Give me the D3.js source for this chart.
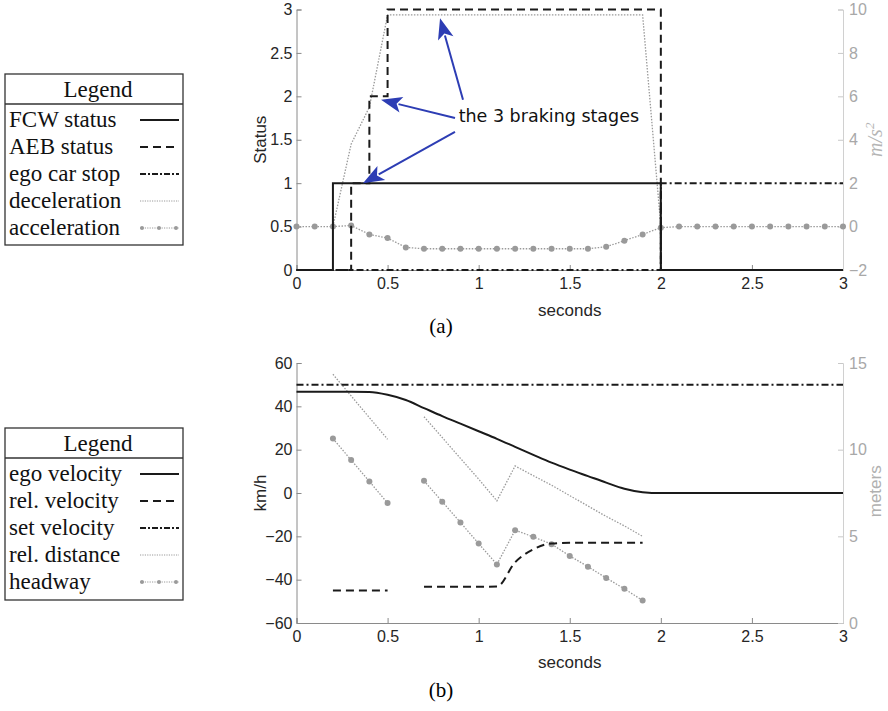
<!DOCTYPE html>
<html>
<head>
<meta charset="utf-8">
<script src="https://cdn.jsdelivr.net/npm/d3@7"></script>
<style>
  body { margin: 0; background: #fff; }
  .tick text { font-family: "Liberation Sans", Arial, sans-serif; font-size: 16px; }
  .lgd { font-family: "Liberation Serif", "Times New Roman", serif; font-size: 23px; fill: #111; }
</style>
</head>
<body>
<div id="chart"></div>
<script>
// ---- data (top plot, a) ----
var timeA = [0, 0.1, 0.2, 0.3, 0.4, 0.5, 0.6, 0.7, 0.8, 0.9, 1.0, 1.1, 1.2, 1.3, 1.4, 1.5,
             1.6, 1.7, 1.8, 1.9, 2.0, 2.1, 2.2, 2.3, 2.4, 2.5, 2.6, 2.7, 2.8, 2.9, 3.0];
var fcwT = [0, 0.2, 0.2, 2.0, 2.0, 3.0];
var fcwV = [0, 0, 1, 1, 0, 0];
var aebT = [0, 0.3, 0.3, 0.4, 0.4, 0.5, 0.5, 2.0, 2.0];
var aebV = [0, 0, 1, 1, 2, 2, 3, 3, 0];
var stopT = [0, 2.0, 2.0, 3.0];
var stopV = [0, 0, 1, 1];
var decelT = [0.2, 0.3, 0.4, 0.5, 1.9, 2.0];
var decelV = [0, 3.8, 5.5, 9.75, 9.75, 0];
var accelV = [0, 0, 0, 0.05, -0.36, -0.53, -0.96, -1.02, -1.02, -1.02, -1.02, -1.02, -1.02, -1.02, -1.02, -1.02,
              -1.02, -0.93, -0.65, -0.36, -0.05, 0, 0, 0, 0, 0, 0, 0, 0, 0, 0];

// ---- data (bottom plot, b) ----
var timeB = timeA;
var egoVel = [46.7, 46.7, 46.7, 46.7, 46.6, 45.3, 42.9, 39.2, 35.5, 32.0, 28.5, 25.0, 21.3, 17.6, 14.0, 10.8,
              7.8, 4.8, 2.0, 0.4, 0, 0, 0, 0, 0, 0, 0, 0, 0, 0, 0];
var setVel = [50, 50, 50, 50, 50, 50, 50, 50, 50, 50, 50, 50, 50, 50, 50, 50,
              50, 50, 50, 50, 50, 50, 50, 50, 50, 50, 50, 50, 50, 50, 50];
var relVelT = [0.2, 0.3, 0.4, 0.5, null, 0.7, 0.8, 0.9, 1.0, 1.1, 1.2, 1.3, 1.4, 1.5, 1.6, 1.7, 1.8, 1.9];
var relVel = [-45, -45, -45, -45, null, -43.3, -43.3, -43.3, -43.3, -43.2, -32, -26, -23.3, -23, -23, -23, -23, -23];
var relDistT = [0.2, 0.3, 0.4, 0.5, null, 0.7, 0.8, 0.9, 1.0, 1.1, 1.2, 1.3, 1.4, 1.5, 1.6, 1.7, 1.8, 1.9];
var relDist = [14.35, 13.1, 11.85, 10.6, null, 11.9, 10.7, 9.5, 8.3, 7.05, 9.06, 8.5, 7.95, 7.35, 6.75, 6.15, 5.6, 5.0];
var headT = relDistT;
var headway = [10.64, 9.4, 8.17, 6.92, null, 8.2, 7.0, 5.8, 4.58, 3.38, 5.35, 4.97, 4.55, 3.87, 3.25, 2.6, 1.97, 1.3];

var xTicks = [0, 0.5, 1, 1.5, 2, 2.5, 3];
var statusTicks = [0, 0.5, 1, 1.5, 2, 2.5, 3];
var accTicks = [-2, 0, 2, 4, 6, 8, 10];
var kmhTicks = [-60, -40, -20, 0, 20, 40, 60];
var meterTicks = [0, 5, 10, 15];

var legendA = ["FCW status", "AEB status", "ego car stop", "deceleration", "acceleration"];
var legendB = ["ego velocity", "rel. velocity", "set velocity", "rel. distance", "headway"];

// ---- styles ----
var styles = {
  solid:  { stroke: "#1a1a1a", width: 2, dash: null },
  dashed: { stroke: "#1a1a1a", width: 2, dash: "8,5" },
  dashdot:{ stroke: "#1a1a1a", width: 2, dash: "7,3,2,3" },
  dotted: { stroke: "#9a9a9a", width: 1.3, dash: "1.5,1.5" },
  marker: { stroke: "#9a9a9a", width: 1.3, dash: "1.5,1.5" }
};
var legendStyles = ["solid", "dashed", "dashdot", "dotted", "marker"];
var legendDash = [null, "8,5", "6,2,2,2", "1.2,1.2", "1.2,1.2"];

var svg = d3.select("#chart").append("svg")
  .attr("width", 888).attr("height", 711);

var left = 296.5, right = 843;
var x = d3.scaleLinear().domain([0, 3]).range([left, right]);
var sans = "Liberation Sans, Arial, sans-serif";

function drawAxes(yL, yR, ticksL, ticksR, bottomY) {
  var g = svg.append("g");
  // bottom
  var ax = g.append("g").attr("transform", "translate(0," + bottomY + ")")
    .call(d3.axisBottom(x).tickValues(xTicks).tickSize(-5).tickPadding(8).tickFormat(d3.format("")));
  ax.select(".domain").attr("stroke", "#8a8a8a");
  ax.selectAll(".tick line").attr("stroke", "#8a8a8a");
  ax.selectAll(".tick text").attr("fill", "#262626");
  // left
  var al = g.append("g").attr("transform", "translate(" + left + ",0)")
    .call(d3.axisLeft(yL).tickValues(ticksL).tickSize(-5).tickPadding(4).tickFormat(d3.format("")));
  al.select(".domain").attr("stroke", "#8a8a8a");
  al.selectAll(".tick line").attr("stroke", "#8a8a8a");
  al.selectAll(".tick text").attr("fill", "#262626");
  // right
  var ar = g.append("g").attr("transform", "translate(" + right + ",0)")
    .call(d3.axisRight(yR).tickValues(ticksR).tickSize(-5).tickPadding(6).tickFormat(d3.format("")));
  ar.select(".domain").attr("stroke", "#d0d0d0");
  ar.selectAll(".tick line").attr("stroke", "#c8c8c8");
  ar.selectAll(".tick text").attr("fill", "#a8a8a8").attr("font-size", "17px");
  return g;
}

function drawLine(xs, ys, y, style, curve) {
  var st = styles[style];
  var pts = xs.map(function (t, i) { return [t, ys[i]]; });
  var line = d3.line()
    .defined(function (d) { return d[0] !== null && d[1] !== null; })
    .x(function (d) { return x(d[0]); })
    .y(function (d) { return y(d[1]); })
    .curve(curve || d3.curveLinear);
  svg.append("path").datum(pts)
    .attr("d", line).attr("fill", "none")
    .attr("stroke", st.stroke).attr("stroke-width", st.width)
    .attr("stroke-dasharray", st.dash);
  if (style === "marker") {
    svg.append("g").selectAll("circle")
      .data(pts.filter(function (d) { return d[0] !== null && d[1] !== null; }))
      .enter().append("circle")
      .attr("cx", function (d) { return x(d[0]); })
      .attr("cy", function (d) { return y(d[1]); })
      .attr("r", 3).attr("fill", "#9a9a9a");
  }
}

function drawLegend(x0, y0, w, h, names) {
  var g = svg.append("g");
  g.append("rect").attr("x", x0).attr("y", y0).attr("width", w).attr("height", h)
    .attr("fill", "#fff").attr("stroke", "#333").attr("stroke-width", 1.3);
  g.append("line").attr("x1", x0).attr("x2", x0 + w).attr("y1", y0 + 30).attr("y2", y0 + 30)
    .attr("stroke", "#333").attr("stroke-width", 1.3);
  g.append("text").attr("class", "lgd").attr("x", x0 + w / 2 + 4).attr("y", y0 + 23)
    .attr("text-anchor", "middle").text("Legend");
  names.forEach(function (n, i) {
    var yy = y0 + 53 + i * 27;
    g.append("text").attr("class", "lgd").attr("x", x0 + 4).attr("y", yy).text(n);
    var st = styles[legendStyles[i]];
    var lw = i < 3 ? 2 : 1;
    g.append("line").attr("x1", x0 + 135).attr("x2", x0 + 174).attr("y1", yy - 7).attr("y2", yy - 7)
      .attr("stroke", st.stroke).attr("stroke-width", lw)
      .attr("stroke-dasharray", legendDash[i]);
    if (legendStyles[i] === "marker") {
      [x0 + 137, x0 + 154, x0 + 171].forEach(function (cx) {
        g.append("circle").attr("cx", cx).attr("cy", yy - 7).attr("r", 2).attr("fill", "#9a9a9a");
      });
    }
  });
}

// ================= top plot =================
var yA = d3.scaleLinear().domain([0, 3]).range([270, 9.5]);
var yA2 = d3.scaleLinear().domain([-2, 10]).range([270, 9.5]);
drawAxes(yA, yA2, statusTicks, accTicks, 270);

drawLine(decelT, decelV, yA2, "dotted");
drawLine(timeA, accelV, yA2, "marker");
drawLine(stopT, stopV, yA, "dashdot");
drawLine(fcwT, fcwV, yA, "solid");
drawLine(aebT, aebV, yA, "dashed");

svg.append("text").attr("transform", "translate(266," + yA(1.5) + ") rotate(-90)")
  .attr("text-anchor", "middle").attr("font-family", sans)
  .attr("font-size", "17px").attr("fill", "#262626").text("Status");
var msLabel = svg.append("text").attr("transform", "translate(882," + yA2(4) + ") rotate(-90)")
  .attr("text-anchor", "middle").attr("font-family", "Liberation Serif, serif")
  .attr("font-style", "italic").attr("font-size", "20px").attr("fill", "#b5b5b5");
msLabel.append("tspan").text("m/s");
msLabel.append("tspan").attr("dy", -8).attr("font-size", "13px").text("2");
svg.append("text").attr("x", x(1.5)).attr("y", 316).attr("text-anchor", "middle")
  .attr("font-family", sans).attr("font-size", "17px")
  .attr("fill", "#262626").text("seconds");
svg.append("text").attr("x", 441).attr("y", 333).attr("text-anchor", "middle")
  .attr("font-family", "Liberation Serif, serif").attr("font-size", "21px").text("(a)");

// annotation arrows (data coordinates: seconds, status)
var arrows = [
  { from: [0.914, 1.96], to: [0.788, 2.90] },
  { from: [0.87, 1.75], to: [0.464, 1.96] },
  { from: [0.87, 1.59], to: [0.365, 1.0] }
];
var blue = "#2d3db4";
arrows.forEach(function (a) {
  var x1 = x(a.from[0]), y1 = yA(a.from[1]), x2 = x(a.to[0]), y2 = yA(a.to[1]);
  var dx = x2 - x1, dy = y2 - y1, L = Math.sqrt(dx * dx + dy * dy);
  var ux = dx / L, uy = dy / L, hl = 21, hw = 8;
  var bx = x2 - ux * hl, by = y2 - uy * hl;
  svg.append("line").attr("x1", x1).attr("y1", y1).attr("x2", bx + ux * 3).attr("y2", by + uy * 3)
    .attr("stroke", blue).attr("stroke-width", 2);
  svg.append("path")
    .attr("d", "M" + x2 + "," + y2 + "L" + (bx - uy * hw) + "," + (by + ux * hw) +
      "L" + (bx + ux * 5) + "," + (by + uy * 5) + "L" + (bx + uy * hw) + "," + (by - ux * hw) + "Z")
    .attr("fill", blue);
});
svg.append("text").attr("x", x(0.89)).attr("y", yA(1.71))
  .attr("font-family", "DejaVu Sans, sans-serif").attr("font-size", "17.5px")
  .attr("fill", "#111").text("the 3 braking stages");

drawLegend(5, 74, 178, 171, legendA);

// ================= bottom plot =================
var yB = d3.scaleLinear().domain([-60, 60]).range([623, 363]);
var yB2 = d3.scaleLinear().domain([0, 15]).range([623, 363]);
drawAxes(yB, yB2, kmhTicks, meterTicks, 623);

drawLine(relDistT, relDist, yB2, "dotted");
drawLine(headT, headway, yB2, "marker");
drawLine(timeB, setVel, yB, "dashdot");
drawLine(timeB, egoVel, yB, "solid", d3.curveMonotoneX);
drawLine(relVelT, relVel, yB, "dashed", d3.curveMonotoneX);

svg.append("text").attr("transform", "translate(266," + yB(0) + ") rotate(-90)")
  .attr("text-anchor", "middle").attr("font-family", sans)
  .attr("font-size", "17px").attr("fill", "#262626").text("km/h");
svg.append("text").attr("transform", "translate(881," + yB2(7.6) + ") rotate(-90)")
  .attr("text-anchor", "middle").attr("font-family", sans)
  .attr("font-size", "17px").attr("fill", "#b0b0b0").text("meters");
svg.append("text").attr("x", x(1.5)).attr("y", 668).attr("text-anchor", "middle")
  .attr("font-family", sans).attr("font-size", "17px")
  .attr("fill", "#262626").text("seconds");
svg.append("text").attr("x", 441).attr("y", 697).attr("text-anchor", "middle")
  .attr("font-family", "Liberation Serif, serif").attr("font-size", "21px").text("(b)");

drawLegend(5, 428, 178, 172, legendB);
</script>
</body>
</html>
